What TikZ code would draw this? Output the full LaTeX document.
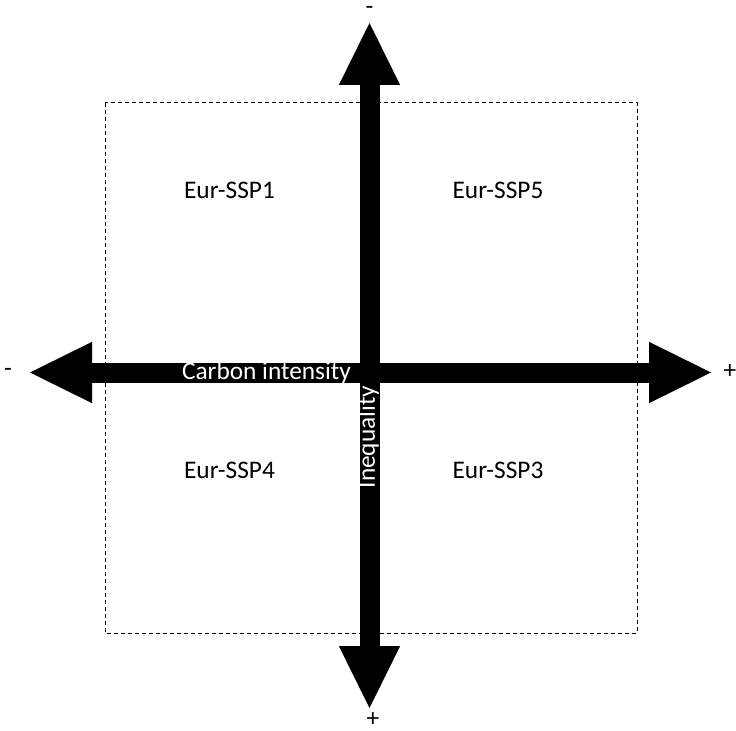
\documentclass[tikz,border=0pt]{standalone}
\usepackage{fontspec}
\setmainfont{Carlito}
\usetikzlibrary{arrows.meta}
\tikzset{>=stealth}
\tikzset{
  bigtip/.tip={Triangle[length=46.5pt,width=46pt,line width=0pt]},
  axis/.style={line width=15pt,{bigtip}-{bigtip}},
  scen/.style={font=\fontsize{19}{22}\selectfont},
  sign/.style={font=\fontsize{19}{22}\selectfont,inner sep=0pt},
  axlabel/.style={white,font=\fontsize{19}{22}\selectfont,inner sep=0pt},
}

\begin{document}
\begin{tikzpicture}[x=0.75pt,y=-0.75pt]
    \useasboundingbox (0,0) rectangle (736,731);
    \draw[line width=0.75pt,dash pattern=on 3pt off 2.25pt] (105,103) rectangle (637,633);
    \coordinate (west) at (30,372.5);
    \coordinate (east) at (711,372.5);
    \coordinate (north) at (369.5,23);
    \coordinate (south) at (369.5,708);
    \draw[axis] (west)--(east);
    \draw[axis] (north)--(south);
    \node[axlabel] at (266.5,372.5) (carbon) {Carbon intensity};
    \node[axlabel,rotate=90] at (368,437) (ineq) {Inequality};
    \node[scen] at (229.5,190) (ssp1) {Eur-SSP1};
    \node[scen] at (498,190) (ssp5) {Eur-SSP5};
    \node[scen] at (229.5,470) (ssp4) {Eur-SSP4};
    \node[scen] at (498,470) (ssp3) {Eur-SSP3};
    \node[sign] at (8,372) (wminus) {-};
    \node[sign] at (730,372) (eplus) {+};
    \node[sign] at (369.5,10) (nminus) {-};
    \node[sign] at (373,720) (splus) {+};
\end{tikzpicture}
\end{document}
